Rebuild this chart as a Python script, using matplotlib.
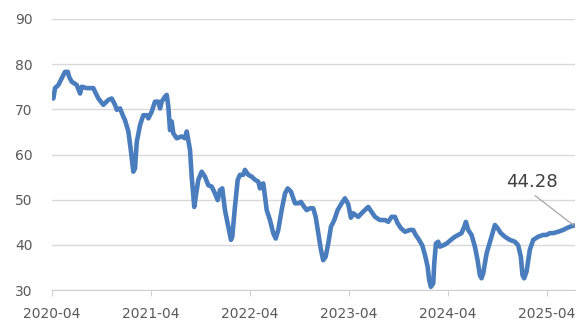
import matplotlib
matplotlib.use("Agg")
import matplotlib.pyplot as plt

# time in fractional years (2020.25 = 2020-04)
t = [2020.250, 2020.263, 2020.280, 2020.314, 2020.348, 2020.381, 2020.409, 2020.422,
     2020.449, 2020.499, 2020.533, 2020.550, 2020.601, 2020.667, 2020.684, 2020.718,
     2020.768, 2020.819, 2020.853, 2020.886, 2020.904, 2020.937, 2020.970, 2020.987,
     2021.021, 2021.048, 2021.071, 2021.088, 2021.106, 2021.139, 2021.172, 2021.207,
     2021.223, 2021.257, 2021.290, 2021.324, 2021.341, 2021.358, 2021.391, 2021.409,
     2021.425, 2021.442, 2021.459, 2021.475, 2021.510, 2021.560, 2021.593, 2021.611,
     2021.644, 2021.661, 2021.687, 2021.702, 2021.728, 2021.762, 2021.795, 2021.829,
     2021.863, 2021.896, 2021.924, 2021.947, 2021.970, 2021.997, 2022.031, 2022.058,
     2022.071, 2022.098, 2022.126, 2022.149, 2022.182, 2022.199, 2022.233, 2022.267,
     2022.301, 2022.334, 2022.351, 2022.368, 2022.384, 2022.402, 2022.419, 2022.452,
     2022.485, 2022.510, 2022.536, 2022.570, 2022.604, 2022.631, 2022.664, 2022.687,
     2022.705, 2022.738, 2022.765, 2022.798, 2022.823, 2022.856, 2022.889, 2022.914,
     2022.940, 2022.967, 2022.990, 2023.015, 2023.041, 2023.068, 2023.102, 2023.136,
     2023.176, 2023.210, 2023.243, 2023.270, 2023.293, 2023.344, 2023.378, 2023.412,
     2023.445, 2023.479, 2023.513, 2023.563, 2023.614, 2023.647, 2023.681, 2023.715,
     2023.742, 2023.775, 2023.816, 2023.866, 2023.899, 2023.924, 2023.950, 2023.991,
     2024.018, 2024.045, 2024.061, 2024.078, 2024.102, 2024.112, 2024.129, 2024.152,
     2024.169, 2024.203, 2024.237, 2024.280, 2024.321, 2024.354, 2024.388, 2024.415,
     2024.432, 2024.455, 2024.489, 2024.523, 2024.550, 2024.573, 2024.590, 2024.607,
     2024.641, 2024.691, 2024.725, 2024.752, 2024.785, 2024.826, 2024.876, 2024.927,
     2024.960, 2024.987, 2025.004, 2025.021, 2025.045, 2025.078, 2025.112, 2025.162,
     2025.213, 2025.247, 2025.280, 2025.314, 2025.364, 2025.415, 2025.449, 2025.482,
     2025.523]
values = [72.8, 72.4, 74.7, 75.4, 76.9, 78.3, 78.3, 77.2,
          76.1, 75.4, 73.5, 75.0, 74.7, 74.7, 73.9, 72.4,
          71.0, 72.1, 72.4, 71.0, 69.9, 70.2, 68.4, 67.6,
          65.1, 60.6, 56.2, 56.9, 62.8, 66.5, 68.7, 68.7,
          68.0, 69.5, 71.7, 71.7, 70.2, 71.7, 72.8, 73.2,
          70.6, 65.4, 67.3, 64.7, 63.6, 64.0, 63.6, 65.1,
          61.0, 55.1, 48.4, 50.7, 54.4, 56.2, 55.1, 53.2,
          52.9, 51.4, 49.9, 52.1, 52.5, 47.7, 44.0, 41.1,
          41.8, 48.4, 54.4, 55.5, 55.5, 56.6, 55.5, 55.1,
          54.4, 54.0, 52.5, 53.3, 53.6, 50.7, 47.7, 45.5,
          42.6, 41.4, 43.3, 47.7, 51.4, 52.5, 51.8, 50.3,
          49.2, 49.2, 49.5, 48.4, 47.7, 48.1, 48.1, 46.2,
          42.6, 38.9, 36.6, 37.4, 40.3, 44.0, 45.5, 47.7,
          49.2, 50.3, 49.0, 46.0, 47.0, 46.2, 47.0, 47.7,
          48.4, 47.3, 46.2, 45.5, 45.5, 45.1, 46.2, 46.2,
          44.8, 43.7, 42.9, 43.3, 43.3, 42.2, 41.4, 39.9,
          37.8, 35.2, 32.2, 30.7, 31.5, 35.9, 40.3, 40.7,
          39.6, 39.9, 40.3, 41.1, 41.8, 42.2, 42.6, 44.0,
          45.1, 43.3, 42.2, 39.6, 36.6, 33.3, 32.6, 33.7,
          38.1, 41.8, 44.4, 43.7, 42.6, 41.8, 41.1, 40.7,
          39.9, 37.4, 33.3, 32.6, 34.1, 38.9, 41.1, 41.8,
          42.2, 42.2, 42.6, 42.6, 42.9, 43.3, 43.7, 44.0,
          44.28]

tick_pos = [2020.25, 2021.25, 2022.25, 2023.25, 2024.25, 2025.25]
tick_labels = ["2020-04", "2021-04", "2022-04", "2023-04", "2024-04", "2025-04"]
y_ticks = [30, 40, 50, 60, 70, 80, 90]
last_label = "44.28"

fig = plt.figure(figsize=(5.85, 3.33), dpi=100)
ax = fig.add_axes([0.089, 0.129, 0.894, 0.814])

ax.plot(t, values, color="#4a7dbd", lw=3.3, solid_joinstyle="round",
        solid_capstyle="round", zorder=3)

ax.set_ylim(30, 90)
ax.set_xlim(2020.25, 2025.535)
ax.set_yticks(y_ticks)
ax.set_xticks(tick_pos)
ax.set_xticklabels(tick_labels)

# horizontal grid, no frame
ax.grid(axis="y", color="#d9d9d9", lw=1)
ax.set_axisbelow(True)
for s in ["top", "right", "left"]:
    ax.spines[s].set_visible(False)
ax.spines["bottom"].set_color("#d0d0d0")
ax.tick_params(axis="y", length=0, pad=14, labelsize=10, labelcolor="#595959")
ax.tick_params(axis="x", length=4, color="#d0d0d0", pad=8, labelsize=10,
               labelcolor="#595959")

# label for the last point
ax.annotate(last_label, xy=(t[-1], values[-1]), xytext=(2025.098, 53.9),
            ha="center", va="center", fontsize=13, color="#404040",
            arrowprops=dict(arrowstyle="-", color="#a6a6a6", lw=0.9,
                            relpos=(0.45, 0.0), shrinkA=2, shrinkB=0))

fig.savefig("out.png", dpi=100)
